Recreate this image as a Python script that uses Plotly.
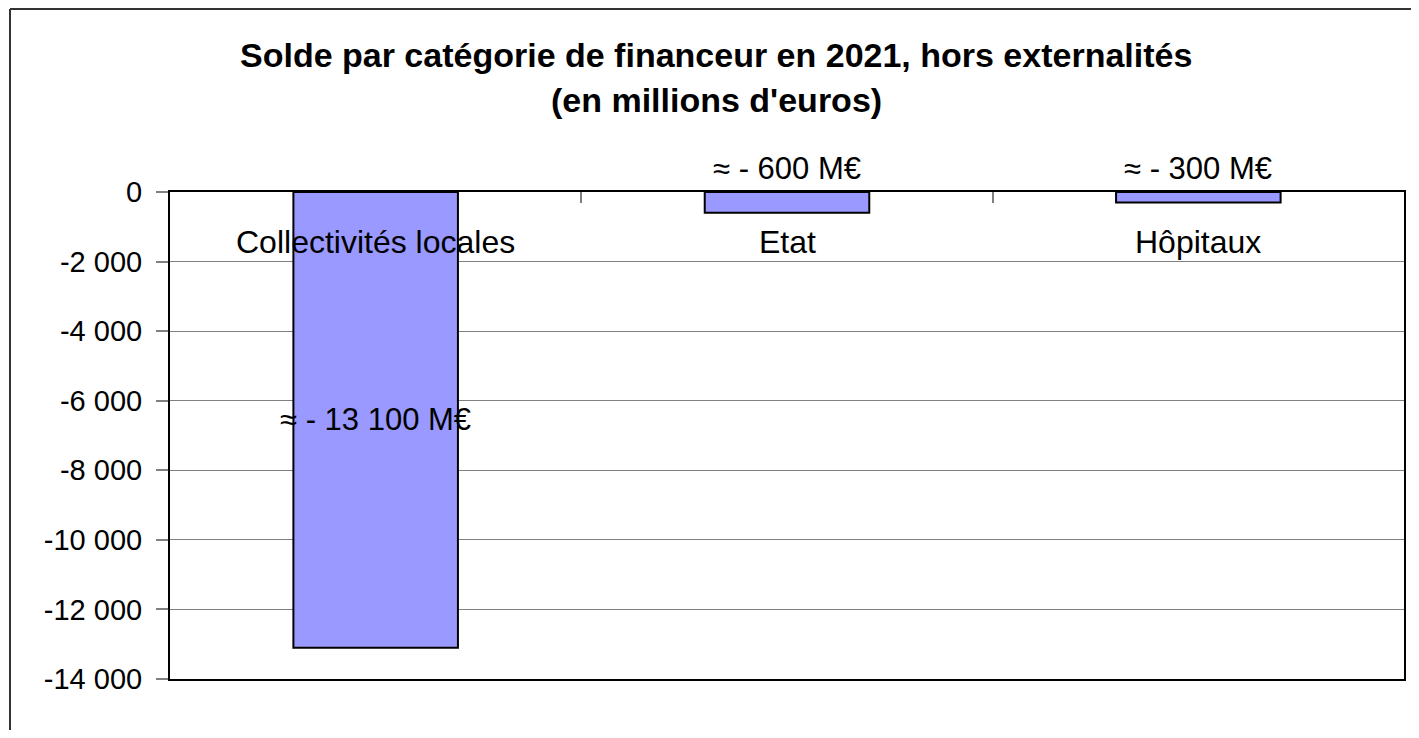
import plotly.graph_objects as go

categories = ["Collectivités locales", "Etat", "Hôpitaux"]
values = [-13100, -600, -300]
value_labels = ["≈ - 13 100 M€", "≈ - 600 M€", "≈ - 300 M€"]
tick_vals = [0, -2000, -4000, -6000, -8000, -10000, -12000, -14000]
tick_text = ["0", "-2 000", "-4 000", "-6 000", "-8 000", "-10 000", "-12 000", "-14 000"]
title_lines = ["Solde par catégorie de financeur en 2021, hors externalités", "(en millions d'euros)"]

# page offset (body margin) is 8px; figure sized so the page does not scroll
OFF = 8
W, H = 1411, 722
# target plot area in page coordinates
PL, PR, PT, PB = 170, 1404, 192, 679
ML, MT = PL - OFF, PT - OFF
MR, MB = W - (PR - OFF), H - (PB - OFF)
pw, ph = W - ML - MR, H - MT - MB

FONT = "Liberation Sans, Arial, sans-serif"


def px_to_paper(px, py):
    """page pixel -> paper coords"""
    fx, fy = px - OFF, py - OFF
    return (fx - ML) / pw, (H - MB - fy) / ph


fig = go.Figure()
fig.add_trace(go.Bar(
    x=categories, y=values,
    marker=dict(color="#9999FF", line=dict(color="black", width=2)),
    width=0.4, hoverinfo="skip", showlegend=False,
))

annotations = []
for c in categories:
    annotations.append(dict(x=c, y=0, xref="x", yref="y", text=c, showarrow=False,
                            yanchor="middle", yshift=-50,
                            font=dict(family=FONT, size=32, color="black")))
for i, (c, v, t) in enumerate(zip(categories, values, value_labels)):
    if i == 0:
        annotations.append(dict(x=c, y=v / 2, xref="x", yref="y", text=t, showarrow=False,
                                yanchor="middle", font=dict(family=FONT, size=31, color="black")))
    else:
        annotations.append(dict(x=c, y=0, xref="x", yref="y", text=t, showarrow=False,
                                yanchor="middle", yshift=24,
                                font=dict(family=FONT, size=31, color="black")))

for line, py in zip(title_lines, [55, 100]):
    x, y = px_to_paper(716, py)
    annotations.append(dict(x=x, y=y, xref="paper", yref="paper", text=line,
                            showarrow=False, xanchor="center", yanchor="middle",
                            font=dict(family=FONT, size=34, color="black", weight="bold")))

# outer frame: only the left and top edges are visible in the view
fx0, fy_top = px_to_paper(10, OFF + 1)
fx_end, _ = px_to_paper(1414, 0)
_, fy_bot = px_to_paper(0, H + 30)
shapes = [
    dict(type="line", xref="paper", yref="paper", x0=fx0, x1=fx0, y0=fy_bot, y1=fy_top,
         line=dict(color="#333333", width=2), layer="below"),
    dict(type="line", xref="paper", yref="paper", x0=fx0, x1=fx_end, y0=fy_top, y1=fy_top,
         line=dict(color="#333333", width=2), layer="below"),
]

fig.update_layout(
    width=W, height=H,
    margin=dict(l=ML, r=MR, t=MT, b=MB),
    paper_bgcolor="white", plot_bgcolor="white",
    bargap=0.6,
    annotations=annotations,
    shapes=shapes,
    xaxis=dict(side="top", showticklabels=False, ticks="inside", tickson="boundaries",
               ticklen=11, tickcolor="#808080", tickwidth=2,
               showline=True, linecolor="black", linewidth=2, mirror=True,
               showgrid=False, zeroline=False),
    yaxis=dict(range=[-14000, 0], tickvals=tick_vals, ticktext=tick_text,
               ticks="outside", ticklen=12, tickcolor="#808080", tickwidth=2,
               ticklabelstandoff=8,
               tickfont=dict(family=FONT, size=29, color="black"),
               showline=True, linecolor="black", linewidth=2, mirror=True,
               showgrid=True, gridcolor="#808080", gridwidth=1, zeroline=False),
)

fig.write_html("out.html")
